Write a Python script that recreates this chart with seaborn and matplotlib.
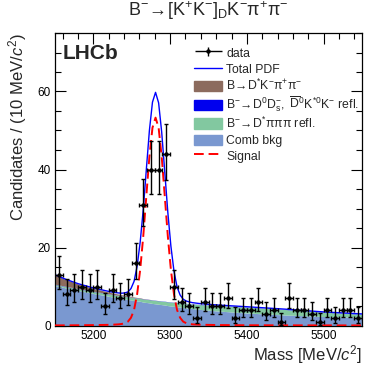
import numpy as np
import matplotlib
matplotlib.use('Agg')
import matplotlib.pyplot as plt
import seaborn as sns
from matplotlib.patches import Patch, Rectangle
from matplotlib.lines import Line2D
from matplotlib.container import ErrorbarContainer
from matplotlib.legend_handler import HandlerPatch, HandlerErrorbar

# ---------------- data (10 MeV bins) ----------------
bin_centres = [5155, 5165, 5175, 5185, 5195, 5205, 5215, 5225, 5235, 5245,
               5255, 5265, 5275, 5285, 5295, 5305, 5315, 5325, 5335, 5345,
               5355, 5365, 5375, 5385, 5395, 5405, 5415, 5425, 5435, 5445,
               5455, 5465, 5475, 5485, 5495, 5505, 5515, 5525, 5535, 5545]
counts = [13, 8, 9, 10, 9, 10, 5, 9, 7, 8,
          16, 31, 40, 40, 44, 10, 6, 5, 2, 6,
          5, 5, 7, 2, 4, 4, 6, 3, 4, 1,
          7, 4, 4, 3, 1, 4, 2, 4, 4, 2]

# ---------------- fit components ----------------
curve_mass = [5150, 5165, 5180, 5200, 5215, 5225, 5233, 5237, 5241, 5245,
              5249, 5253, 5257, 5261, 5265, 5269, 5273, 5277, 5281, 5285,
              5289, 5293, 5297, 5301, 5305, 5309, 5313, 5317, 5321, 5325,
              5329, 5340, 5360, 5400, 5450, 5500, 5550]
comb_bkg = [10.2, 9.6, 9.0, 8.2, 7.7, 7.3, 7.05, 6.9, 6.8, 6.65,
            6.55, 6.4, 6.3, 6.2, 6.0, 5.9, 5.8, 5.65, 5.55, 5.45,
            5.35, 5.25, 5.1, 5.0, 4.9, 4.8, 4.7, 4.6, 4.5, 4.45,
            4.35, 4.1, 3.75, 3.2, 2.7, 2.3, 2.1]
dstar_pipipi = [0.3, 0.35, 0.4, 0.5, 0.55, 0.6, 0.63, 0.65, 0.66, 0.68,
                0.7, 0.72, 0.74, 0.76, 0.78, 0.8, 0.82, 0.84, 0.86, 0.88,
                0.9, 0.93, 0.96, 1.0, 1.02, 1.05, 1.07, 1.1, 1.12, 1.14,
                1.16, 1.24, 1.35, 1.5, 1.4, 1.1, 0.8]
d0ds_refl = [0.08, 0.08, 0.07, 0.07, 0.06, 0.06, 0.06, 0.06, 0.06, 0.06,
             0.05, 0.05, 0.05, 0.05, 0.05, 0.05, 0.05, 0.05, 0.05, 0.05,
             0.05, 0.05, 0.05, 0.05, 0.05, 0.05, 0.05, 0.05, 0.05, 0.05,
             0.05, 0.05, 0.05, 0.05, 0.05, 0.05, 0.05]
dstar_kpipi = [2.4, 1.7, 1.2, 0.75, 0.5, 0.38, 0.3, 0.27, 0.24, 0.2,
               0.17, 0.14, 0.11, 0.09, 0.07, 0.05, 0.04, 0.03, 0.02, 0.01,
               0.0, 0.0, 0.0, 0.0, 0.0, 0.0, 0.0, 0.0, 0.0, 0.0,
               0.0, 0.0, 0.0, 0.0, 0.0, 0.0, 0.0]
signal = [0.03, 0.04, 0.06, 0.1, 0.15, 0.2, 0.3, 0.4, 0.6, 1.0,
          2.0, 4.0, 8.0, 14.3, 22.9, 33.2, 43.3, 50.7, 53.3, 50.7,
          43.3, 33.2, 22.9, 14.3, 8.0, 4.0, 2.0, 1.0, 0.6, 0.4,
          0.3, 0.2, 0.12, 0.06, 0.04, 0.03, 0.02]

legend_labels = ['data', 'Total PDF',
                 r'$\mathregular{B\!\rightarrow\!D^{*}K^{-}\pi^{+}\pi^{-}}$',
                 r'$\mathregular{B^{-}\!\rightarrow\!D^{0}D_{s}^{-},\ \overline{D}^{0}K^{*0}K^{-}}$ refl.',
                 r'$\mathregular{B^{-}\!\rightarrow\!D^{*}\pi\pi\pi}$ refl.',
                 'Comb bkg', 'Signal']

colours = {'kpipi': '#8c6b5e', 'd0ds': '#0000ee', 'pipipi': '#82c8a0',
           'comb': '#7a98d0', 'total': '#0000ff', 'signal': '#ff0000'}


def poisson_errors(n):
    # Gehrels approximations of the 68% Poisson interval
    n = np.asarray(n, dtype=float)
    up = np.sqrt(n + 0.75) + 1.0
    lo = n - n * (1 - 1 / (9 * n) - 1 / (3 * np.sqrt(n))) ** 3
    return lo, up


def small_box(legend, orig_handle, xdescent, ydescent, width, height, fontsize):
    # ROOT style legend box: a bit shorter than the row height
    return Rectangle((-xdescent, -ydescent + 0.15 * height), width, 0.7 * height)


def main():
    sns.set_theme(style='ticks')
    plt.rcParams['font.family'] = ['Liberation Sans', 'DejaVu Sans']
    plt.rcParams['mathtext.fontset'] = 'custom'
    plt.rcParams['mathtext.rm'] = 'Liberation Sans'
    plt.rcParams['mathtext.it'] = 'Liberation Sans:italic'
    plt.rcParams['mathtext.bf'] = 'Liberation Sans:bold'

    fig = plt.figure(figsize=(3.66, 3.66), dpi=100)
    ax = fig.add_axes([55 / 366, 40.5 / 366, 307 / 366, 292.5 / 366])

    m = np.array(curve_mass, dtype=float)
    c1 = np.array(comb_bkg)
    c2 = c1 + np.array(dstar_pipipi)
    c3 = c2 + np.array(d0ds_refl)
    c4 = c3 + np.array(dstar_kpipi)
    sig = np.array(signal)
    total = c4 + sig

    # stacked background components
    ax.fill_between(m, 0, c1, color=colours['comb'], lw=0, zorder=1)
    ax.fill_between(m, c1, c2, color=colours['pipipi'], lw=0, zorder=1)
    ax.fill_between(m, c2, c3, color=colours['d0ds'], lw=0, zorder=1)
    ax.fill_between(m, c3, c4, color=colours['kpipi'], lw=0, zorder=1)

    sns.lineplot(x=m, y=sig, color=colours['signal'], lw=1.4,
                 linestyle=(0, (5, 2.5)), ax=ax, zorder=3)
    sns.lineplot(x=m, y=total, color=colours['total'], lw=1.0, ax=ax, zorder=4)

    lo, up = poisson_errors(counts)
    ax.errorbar(bin_centres, counts, xerr=5, yerr=[lo, up], fmt='o', ms=2.2,
                color='black', ecolor='black', elinewidth=1.0, capsize=1.5,
                capthick=1.0, zorder=5)

    ax.set_xlim(5150, 5550)
    ax.set_ylim(0, 75)
    ax.set_xticks([5200, 5300, 5400, 5500])
    ax.set_xticks(np.arange(5160, 5550, 20), minor=True)
    ax.set_yticks([0, 20, 40, 60])
    ax.set_yticks(np.arange(0, 76, 5), minor=True)
    ax.tick_params(which='both', direction='in', top=True, right=True,
                   labelsize=8.5, width=0.8, color='black', labelcolor='black')
    ax.tick_params(which='major', length=8)
    ax.tick_params(axis='x', which='major', pad=3.5)
    ax.tick_params(axis='y', which='major', pad=3)
    ax.tick_params(which='minor', length=4)
    for s in ax.spines.values():
        s.set_linewidth(0.9)
        s.set_color('black')

    ax.set_xlabel(r'Mass [MeV/$c^{2}$]', fontsize=12, loc='right')
    ax.xaxis.set_label_coords(1.0, -0.06)
    ax.set_ylabel(r'Candidates / (10 MeV/$c^{2}$)', fontsize=12, loc='top')
    ax.yaxis.set_label_coords(-0.085, 1.0)

    ax.set_title(r'$\mathregular{B^{-}\!\rightarrow\![K^{+}K^{-}]_{D}K^{-}\pi^{+}\pi^{-}}$',
                 fontsize=13, pad=12)

    ax.text(0.024, 0.962, 'LHCb', transform=ax.transAxes, fontsize=15,
            fontweight='bold', ha='left', va='top')

    data_handle = ax.errorbar([], [], xerr=[], yerr=[], fmt='o', ms=2.2,
                              color='black', elinewidth=1.0, capsize=0)
    handles = [data_handle,
               Line2D([], [], color=colours['total'], lw=1.0),
               Patch(color=colours['kpipi']),
               Patch(color=colours['d0ds']),
               Patch(color=colours['pipipi']),
               Patch(color=colours['comb']),
               Line2D([], [], color=colours['signal'], lw=1.4, linestyle=(0, (5, 2.5)))]
    ax.legend(handles, legend_labels, loc='upper left', bbox_to_anchor=(0.445, 0.965),
              frameon=False, fontsize=8.8, handlelength=2.3, handleheight=1.5,
              handletextpad=0.35, labelspacing=0.1, borderaxespad=0, borderpad=0.2,
              handler_map={Patch: HandlerPatch(patch_func=small_box),
                           ErrorbarContainer: HandlerErrorbar(xerr_size=1.1, yerr_size=0.4)})

    sns.despine(ax=ax, top=False, right=False)
    fig.savefig('out.png', dpi=100)


if __name__ == '__main__':
    main()
